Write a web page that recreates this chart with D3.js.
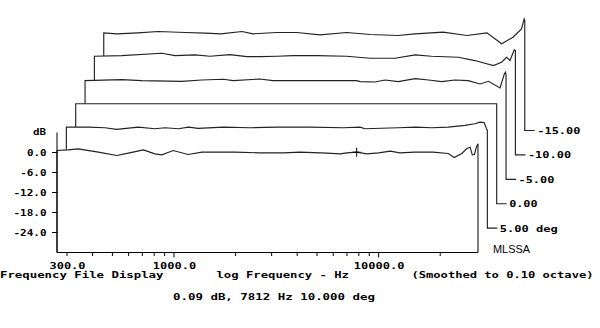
<!DOCTYPE html>
<html>
<head>
<meta charset="utf-8">
<script src="https://cdn.jsdelivr.net/npm/d3@7"></script>
<style>
  html, body { margin: 0; padding: 0; background: #fff; }
  svg { display: block; }
  text { font-family: "DejaVu Sans Mono", "Liberation Mono", monospace; font-weight: bold; fill: #000; }
</style>
</head>
<body>
<script>
// ---------------- data ----------------
const angles = [10, 5, 0, -5, -10, -15];
const traceLabels = ["", "5.00 deg", "0.00", "-5.00", "-10.00", "-15.00"];

const freq10 = [268, 304, 340, 427, 525, 598, 708, 807, 871, 992, 1170, 1370, 1990, 2600, 3420, 4130, 5580, 6480, 7000, 7812, 8740, 10000, 11400, 12700, 15000, 18400, 21900, 23400, 25500, 27000, 28000, 28700, 29400, 30100, 30600];
const db10   = [0.6, 0.8, 1.1, 0.1, -0.9, -0.2, 0.8, -0.4, -0.7, 0.6, -0.6, 0.1, 0.1, -0.1, -0.1, 0.1, -0.2, -0.4, -0.1, 0.09, -0.4, -0.1, 0.4, -0.1, 0.1, 0.1, -0.3, -1.5, -0.3, 1.2, 1.6, -0.7, -0.6, 1.8, 2.6];

const freq5 = [268, 343, 414, 472, 602, 727, 813, 945, 1060, 1180, 1570, 2120, 2860, 4160, 6050, 7300, 7730, 11200, 13600, 16400, 19700, 23800, 26600, 28200, 29500, 30300, 30600];
const db5   = [0.3, 0.3, 0.1, -0.4, 0.3, -0.2, 0.1, -0.2, 0.3, -0.1, 0.3, 0.1, 0.3, 0.3, 0.1, 0.3, -0.2, 0.1, 0.3, 0.1, 0.3, 0.8, 1.3, 1.8, 1.7, -0.2, -0.6];

const freq0 = [268, 30600];
const db0   = [0, 0];

const freqM5 = [268, 405, 507, 795, 996, 1270, 1420, 1920, 2220, 5700, 5920, 7000, 7840, 9100, 11000, 12800, 14800, 17200, 20000, 22800, 25100, 28600, 30000, 30400, 30600];
const dbM5   = [-0.4, -0.1, -0.4, -0.6, -0.2, 0.0, -0.4, 0.1, -0.4, -0.4, -0.7, -0.8, -0.2, -0.7, 0.2, -0.2, -0.7, -0.2, -0.4, -1.4, -0.6, -2.6, 1.6, 2.1, 1.2];

const freqM10 = [268, 364, 572, 664, 832, 984, 1230, 1490, 1730, 2090, 2510, 3270, 4580, 5960, 7900, 9900, 11900, 16100, 19400, 23900, 26200, 27700, 28800, 30200, 30600];
const dbM10   = [-0.4, -0.2, 0.5, -0.2, 0.0, -0.4, 0.1, -0.5, -0.5, -0.4, -0.2, -0.2, -0.4, -1.0, -1.0, 0.0, -0.4, -0.7, -1.7, -3.2, -2.2, -0.7, -1.7, 1.5, 1.3];

const freqM15 = [268, 310, 394, 494, 669, 838, 1000, 1270, 1440, 1880, 2350, 3060, 4130, 5370, 7360, 8900, 12200, 16000, 20000, 23600, 26800, 29500, 30400, 30600];
const dbM15   = [-0.7, -1.0, -0.7, -0.3, -0.6, -0.8, -1.0, -0.3, -1.0, -0.6, -0.6, -1.3, -0.6, -1.2, -1.5, -1.0, -0.5, -1.5, -0.7, -4.0, -2.0, 0.5, 3.5, 3.0];

const traceFreqs = [freq10, freq5, freq0, freqM5, freqM10, freqM15];
const traceDbs   = [db10, db5, db0, dbM5, dbM10, dbM15];

const yTicks = [0, -6, -12, -18, -24];
const yTickLabels = ["0.0", "-6.0", "-12.0", "-18.0", "-24.0"];
const xMinorTicks = [300, 400, 500, 600, 700, 800, 900, 2000, 3000, 4000, 5000, 6000, 7000, 8000, 9000, 20000];
const xMajorTicks = [1000, 10000];
const xTickLabelValues = [300, 1000, 10000];
const xTickLabels = ["300.0", "1000.0", "10000.0"];

const cursorFreq = 7812, cursorDb = 0.09;

// ---------------- drawing ----------------
const W = 600, H = 328;
const svg = d3.select("body").append("svg").attr("width", W).attr("height", H);

const x = d3.scaleLog().domain([268, 30600]).range([57, 478]);
const y = d3.scaleLinear().domain([-30, 6]).range([252.5, 132.5]);
const DX = 9.35, DY = 24.4;
const CH = 7.4; // char advance

function txt(str, px, py, width, anchor) {
  return svg.append("text")
    .attr("x", px).attr("y", py)
    .attr("font-size", 9)
    .attr("text-anchor", anchor || "start")
    .attr("textLength", width)
    .attr("lengthAdjust", "spacingAndGlyphs")
    .text(str);
}

// traces, back to front (hidden line by white fill)
for (let k = angles.length - 1; k >= 0; k--) {
  const fr = traceFreqs[k], dbv = traceDbs[k];
  const g = svg.append("g").attr("transform", `translate(${DX * k},${-DY * k})`);
  const pts = fr.map((f, i) => [x(f), y(dbv[i])]);
  const x0 = pts[0][0], xN = pts[pts.length - 1][0], yF = y(-30);
  const poly = [[x0, yF], ...pts, [xN, yF]];
  g.append("path")
    .attr("d", d3.line()(poly) + "Z")
    .attr("fill", "#fff").attr("stroke", "none");
  const strokePts = k > 0 ? [...poly, [xN + 10, yF]] : poly;
  g.append("path")
    .attr("d", d3.line()(strokePts))
    .attr("fill", "none").attr("stroke", "#222").attr("stroke-width", 1.15);
  if (k > 0) {
    const lab = traceLabels[k];
    svg.append("text")
      .attr("x", xN + 12.5 + DX * k).attr("y", yF - DY * k + 3.4)
      .attr("font-size", 9)
      .attr("textLength", lab.length * CH - 1.2)
      .attr("lengthAdjust", "spacingAndGlyphs")
      .text(lab);
  }
}

// y axis
svg.append("line").attr("x1", 57).attr("x2", 57).attr("y1", y(6)).attr("y2", y(-30))
  .attr("stroke", "#000").attr("stroke-width", 1);
yTicks.forEach((v, i) => {
  svg.append("line").attr("x1", 52).attr("x2", 57).attr("y1", y(v)).attr("y2", y(v))
    .attr("stroke", "#000").attr("stroke-width", 1);
  const s = yTickLabels[i];
  txt(s, 46.5, y(v) + 3.3, s.length * 6.7 - 0.5, "end");
});
txt("dB", 46, 135, 13, "end");

// x axis
svg.append("line").attr("x1", 57).attr("x2", 478).attr("y1", y(-30)).attr("y2", y(-30))
  .attr("stroke", "#000").attr("stroke-width", 1);
xMinorTicks.forEach(f => {
  svg.append("line").attr("x1", x(f)).attr("x2", x(f)).attr("y1", y(-30)).attr("y2", y(-30) + 3.5)
    .attr("stroke", "#000").attr("stroke-width", 1);
});
xMajorTicks.forEach(f => {
  svg.append("line").attr("x1", x(f)).attr("x2", x(f)).attr("y1", y(-30)).attr("y2", y(-30) + 5)
    .attr("stroke", "#000").attr("stroke-width", 1);
});
xTickLabelValues.forEach((f, i) => {
  const s = xTickLabels[i];
  txt(s, x(f) + 0.5, 268.5, s.length * 7.3 - 0.5, "middle");
});

// cursor
const cx = x(cursorFreq), cy = y(cursorDb);
svg.append("path")
  .attr("d", `M${cx},${cy - 4.5}V${cy + 4.5}M${cx - 4},${cy}H${cx + 4}`)
  .attr("stroke", "#000").attr("stroke-width", 1).attr("fill", "none");

// texts
txt("Frequency File Display", 0, 277.5, 163.5);
txt("log Frequency - Hz", 216.5, 277.5, 132.5);
txt("(Smoothed to 0.10 octave)", 411.5, 277.5, 182);
txt("0.09 dB, 7812 Hz 10.000 deg", 173, 299.5, 202);

svg.append("text")
  .attr("x", 493).attr("y", 253.3)
  .attr("font-size", 10.5)
  .style("font-family", "'Liberation Sans', Arial, sans-serif")
  .style("font-weight", "normal")
  .attr("textLength", 37)
  .attr("lengthAdjust", "spacingAndGlyphs")
  .text("MLSSA");
</script>
</body>
</html>
